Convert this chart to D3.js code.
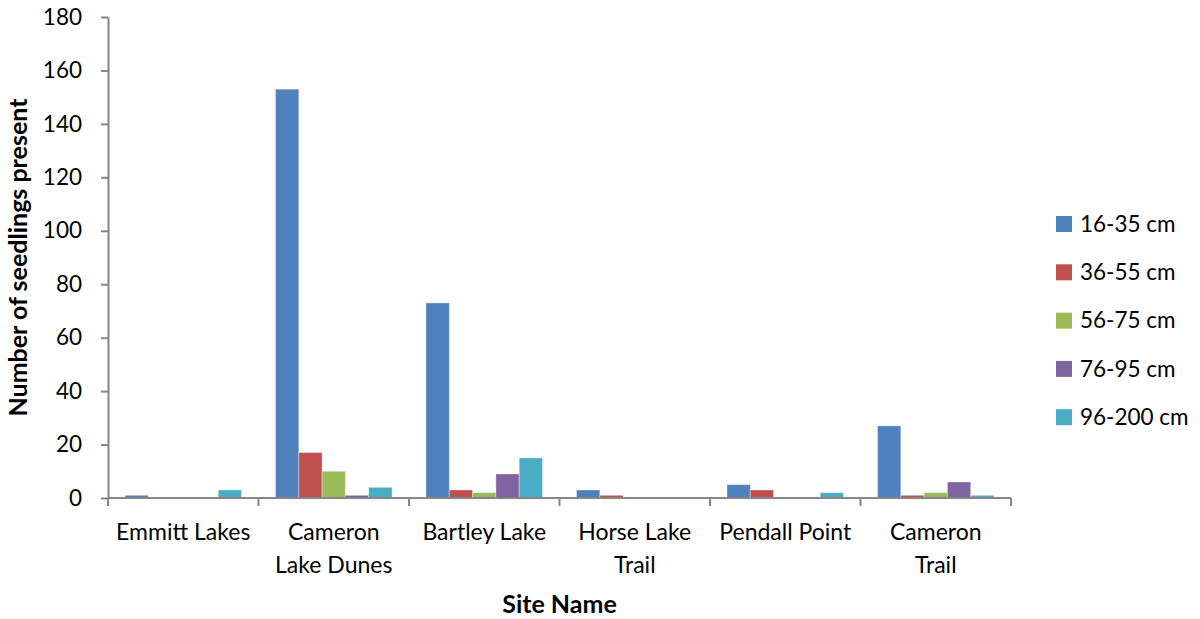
<!DOCTYPE html>
<html>
<head>
<meta charset="utf-8">
<script src="https://cdn.jsdelivr.net/npm/d3@7"></script>
<style>
  body { margin: 0; background: #fff; }
  text { font-family: Lato, "Open Sans", sans-serif; fill: #000; }
</style>
</head>
<body>
<script>
// Data
const sites = ["Emmitt Lakes", "Cameron Lake Dunes", "Bartley Lake", "Horse Lake Trail", "Pendall Point", "Cameron Trail"];
const siteLines = [["Emmitt Lakes"], ["Cameron", "Lake Dunes"], ["Bartley Lake"], ["Horse Lake", "Trail"], ["Pendall Point"], ["Cameron", "Trail"]];
const sizeClasses = ["16-35 cm", "36-55 cm", "56-75 cm", "76-95 cm", "96-200 cm"];
const s16_35  = [1, 153, 73, 3, 5, 27];
const s36_55  = [0, 17, 3, 1, 3, 1];
const s56_75  = [0, 10, 2, 0, 0, 2];
const s76_95  = [0, 1, 9, 0, 0, 6];
const s96_200 = [3, 4, 15, 0, 2, 1];
const yTicks = [0, 20, 40, 60, 80, 100, 120, 140, 160, 180];
const colors = ["#4F81BD", "#C0504D", "#9BBB59", "#8064A2", "#4BACC6"];

const seriesValues = [s16_35, s36_55, s56_75, s76_95, s96_200];

const W = 1200, H = 619;
const margin = { top: 17, right: 190, bottom: 121, left: 108 };
const width = 1011 - margin.left, height = 498 - margin.top;

const svg = d3.select("body").append("svg")
    .attr("width", W).attr("height", H);
const g = svg.append("g")
    .attr("transform", "translate(" + margin.left + "," + margin.top + ")");

const x0 = d3.scaleBand().domain(sites).range([0, width]).paddingInner(0).paddingOuter(0);
const inner = 116.5 / 150.5;
const x1 = d3.scaleBand().domain(sizeClasses)
    .range([x0.bandwidth() * (1 - inner) / 2, x0.bandwidth() * (1 + inner) / 2]);
const y = d3.scaleLinear().domain([0, 180]).range([height, 0]);

// Bars
sizeClasses.forEach((k, si) => {
  g.append("g").selectAll("rect")
    .data(sites.map((s, i) => ({ site: s, v: seriesValues[si][i] })))
    .enter().append("rect")
      .attr("x", d => x0(d.site) + x1(k))
      .attr("y", d => y(d.v))
      .attr("width", x1.bandwidth())
      .attr("height", d => height - y(d.v))
      .attr("fill", colors[si])
      .attr("stroke", "rgba(255,255,255,0.35)")
      .attr("stroke-width", 1);
});

const axisColor = "#868686";

// Y axis
const yAxis = g.append("g")
    .call(d3.axisLeft(y).tickValues(yTicks).tickSize(7).tickPadding(19).tickSizeOuter(0));
yAxis.select(".domain").attr("stroke", axisColor).attr("stroke-width", 2);
yAxis.selectAll(".tick line").attr("stroke", axisColor).attr("stroke-width", 2);
yAxis.selectAll(".tick text").style("font-size", "22.5px").attr("fill", "#000")
    .style("font-family", "Lato, 'Open Sans', sans-serif");

// X axis
const xAxis = g.append("g").attr("transform", "translate(0," + height + ")");
xAxis.append("line").attr("x1", 0).attr("x2", width).attr("y1", 0).attr("y2", 0)
    .attr("stroke", axisColor).attr("stroke-width", 2);
const bounds = sites.map(s => x0(s)).concat([width]);
xAxis.selectAll(".xtick").data(bounds).enter().append("line")
    .attr("x1", d => d).attr("x2", d => d).attr("y1", 0).attr("y2", 8)
    .attr("stroke", axisColor).attr("stroke-width", 2);
const labels = xAxis.selectAll(".xlabel").data(sites).enter().append("text")
    .attr("x", d => x0(d) + x0.bandwidth() / 2)
    .attr("text-anchor", "middle")
    .style("font-size", "23px");
labels.each(function(d, i) {
  const t = d3.select(this);
  siteLines[i].forEach((ln, j) => {
    t.append("tspan").attr("x", x0(d) + x0.bandwidth() / 2).attr("y", 42 + j * 33).text(ln);
  });
});

// Axis titles
svg.append("text")
    .attr("transform", "translate(27," + (margin.top + height / 2) + ") rotate(-90)")
    .attr("text-anchor", "middle")
    .style("font-size", "25px").style("font-weight", "bold")
    .text("Number of seedlings present");
svg.append("text")
    .attr("x", margin.left + width / 2).attr("y", 613)
    .attr("text-anchor", "middle")
    .style("font-size", "25px").style("font-weight", "bold")
    .text("Site Name");

// Legend
const legend = svg.append("g").selectAll("g")
    .data(sizeClasses)
    .enter().append("g")
    .attr("transform", (d, i) => "translate(1056," + (224 + i * 48.3) + ")");
legend.append("rect")
    .attr("x", 0).attr("y", -8).attr("width", 16).attr("height", 16)
    .attr("fill", (d, i) => colors[i]);
legend.append("text")
    .attr("x", 24).attr("y", 0).attr("dy", "0.35em")
    .style("font-size", "22.5px")
    .text(d => d);
</script>
</body>
</html>
